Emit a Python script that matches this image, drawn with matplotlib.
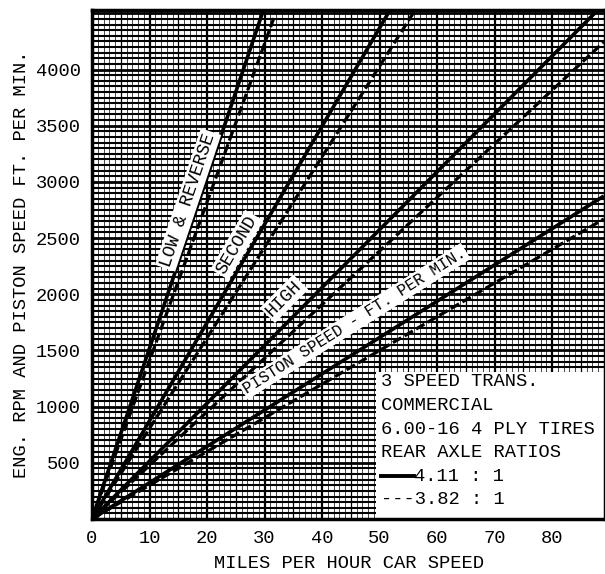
import numpy as np
import matplotlib
matplotlib.use("Agg")
import matplotlib.pyplot as plt

# rpm per mph (solid = 4.11 axle, dashed = 3.82 axle)
gears = ["LOW & REVERSE", "SECOND", "HIGH", "PISTON SPEED - FT. PER MIN."]
slope_411 = [152.0, 87.4, 51.5, 32.3]
slope_382 = [141.0, 80.6, 47.7, 30.0]
mph_ends = [0, 89]

x_ticks = [0, 10, 20, 30, 40, 50, 60, 70, 80]
y_ticks = [500, 1000, 1500, 2000, 2500, 3000, 3500, 4000]

# label centres (mph, rpm)
label_x = [16.7, 25.2, 33.4, 45.6]
label_y = [2840, 2440, 1960, 1760]
label_fs = [13, 13, 13, 11.5]

legend_lines = ["3 SPEED TRANS.", "COMMERCIAL", "6.00-16 4 PLY TIRES",
                "REAR AXLE RATIOS"]
ratio_labels = ["4.11 : 1", "---3.82 : 1"]

font = "Liberation Mono"
fs = 13.5

fig = plt.figure(figsize=(6.05, 5.74), dpi=100)
ax = fig.add_axes([92 / 605, 55 / 574, 1 - 92 / 605, 509 / 574])
xmax, ymax = 89.2, 4530
ax.set_xlim(0, xmax)
ax.set_ylim(0, ymax)

# graph paper grid
for v in np.arange(0, xmax, 1):
    lw = 1.6 if v % 10 == 0 else (0.9 if v % 5 == 0 else 0.5)
    ax.axvline(v, color="black", lw=lw, zorder=1)
for h in np.arange(0, ymax, 50):
    lw = 2.0 if h % 500 == 0 else 1.5
    ax.axhline(h, color="black", lw=lw, zorder=1)

xs = np.array(mph_ends, dtype=float)
for s1, s2 in zip(slope_411, slope_382):
    ax.plot(xs, s1 * xs, color="black", lw=2.6, zorder=3, solid_capstyle="butt")
    ax.plot(xs, s2 * xs, color="black", lw=2.3, ls=(0, (3, 1.2)), zorder=3)

# rotated gear labels on white boxes
sx = ax.bbox.width / xmax
sy = ax.bbox.height / ymax
for name, s, lx, ly, f in zip(gears, slope_411, label_x, label_y, label_fs):
    ang = np.degrees(np.arctan(s * sy / sx))
    ax.text(lx, ly, name, rotation=ang, rotation_mode="anchor",
            ha="center", va="center", family=font, fontsize=f, zorder=5,
            bbox=dict(boxstyle="square,pad=0.12", fc="white", ec="none"))

# info box in lower right
ax.add_patch(plt.Rectangle((49.4, 0), xmax - 49.4, 1310, fc="white",
                           ec="none", zorder=6))
for i, t in enumerate(legend_lines):
    ax.text(50.2, 1220 - i * 210, t, family=font, fontsize=fs,
            va="center", zorder=7)
ax.plot([50.2, 56.0], [380, 380], color="black", lw=2.8, zorder=7)
ax.text(56.0, 380, ratio_labels[0], family=font, fontsize=fs, va="center", zorder=7)
ax.text(50.2, 170, ratio_labels[1], family=font, fontsize=fs, va="center", zorder=7)

ax.set_xticks(x_ticks)
ax.set_yticks(y_ticks)
ax.tick_params(length=0, pad=8, labelsize=fs)
for lab in ax.get_xticklabels() + ax.get_yticklabels():
    lab.set_family(font)
for sp in ax.spines.values():
    sp.set_linewidth(2.5)
    sp.set_zorder(8)

ax.set_xlabel("MILES PER HOUR CAR SPEED", family=font, fontsize=fs, labelpad=6)
ax.set_ylabel("ENG. RPM AND PISTON SPEED FT. PER MIN.", family=font,
              fontsize=fs, labelpad=4)

fig.savefig("out.png", dpi=100)
